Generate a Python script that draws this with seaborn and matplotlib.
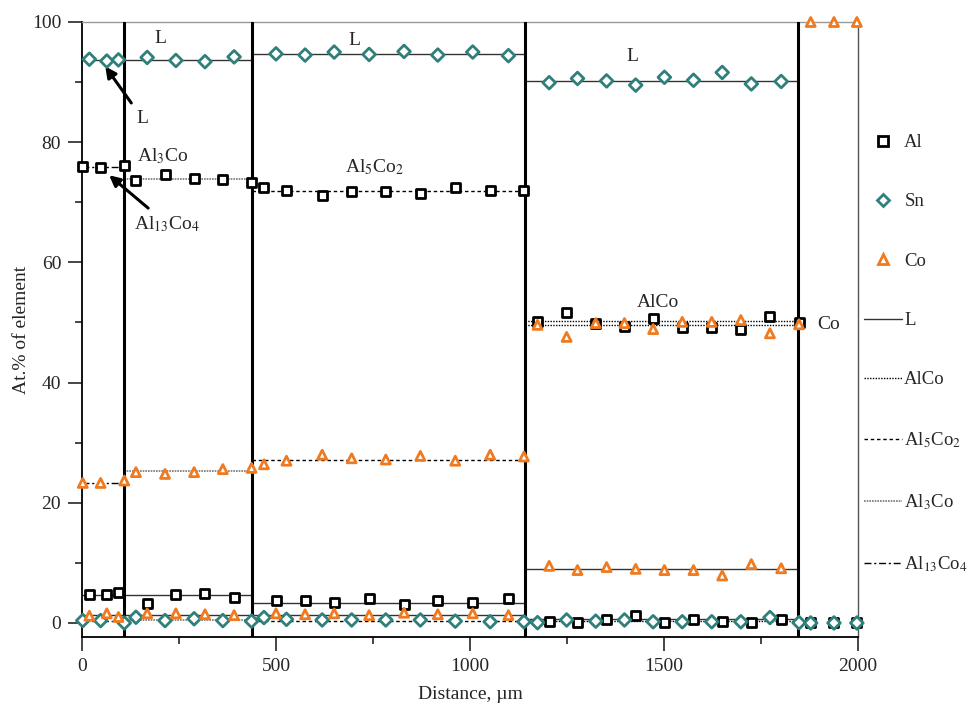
# Concentration profile across the Al-Co / Sn diffusion zone
import numpy as np
import pandas as pd
import matplotlib.pyplot as plt
import seaborn as sns
from matplotlib.lines import Line2D
from matplotlib.ticker import MultipleLocator

# liquid (L) profile points
x_liq = [19, 64, 94, 168, 242, 317, 392, 500, 575, 650, 740, 830, 917, 1007, 1099,
         1204, 1277, 1352, 1427, 1501, 1576, 1650, 1725, 1802]
al_liq = [4.8, 4.8, 5.1, 3.2, 4.7, 4.9, 4.3, 3.7, 3.8, 3.4, 4.0, 3.1, 3.8, 3.4, 4.0,
          0.2, 0.05, 0.5, 1.2, 0.05, 0.5, 0.2, 0.1, 0.5]
sn_liq = [93.8, 93.5, 93.7, 94.1, 93.6, 93.4, 94.2, 94.7, 94.5, 95.0, 94.6, 95.1, 94.5, 95.0, 94.4,
          89.9, 90.6, 90.2, 89.5, 90.8, 90.3, 91.6, 89.7, 90.1]
co_liq = [1.2, 1.6, 1.0, 1.6, 1.6, 1.45, 1.3, 1.6, 1.45, 1.6, 1.3, 1.7, 1.45, 1.6, 1.3,
          9.5, 8.8, 9.3, 9.0, 8.8, 8.8, 7.9, 9.8, 9.1]

# solid phase profile points
x_sol = [2, 48, 109, 139, 214, 289, 363, 437, 469, 527, 619, 695, 783, 872, 962, 1052, 1139,
         1174, 1249, 1324, 1398, 1472, 1547, 1623, 1698, 1773, 1848, 1878, 1938, 1997]
al_sol = [75.9, 75.8, 76.1, 73.7, 74.7, 74.0, 73.8, 73.3, 72.4, 72.0, 71.2, 71.8, 71.8, 71.4,
          72.5, 71.9, 71.9, 50.1, 51.6, 49.9, 49.3, 50.6, 49.1, 49.2, 48.9, 51.0, 50.0, 0, 0, 0]
sn_sol = [0.4, 0.4, 0.0, 0.95, 0.4, 0.7, 0.4, 0.3, 0.9, 0.6, 0.5, 0.5, 0.5, 0.5, 0.3, 0.2, 0.2,
          0.05, 0.5, 0.3, 0.5, 0.2, 0.2, 0.2, 0.2, 0.9, 0.05, 0, 0, 0]
co_sol = [23.3, 23.3, 23.7, 25.1, 24.8, 25.1, 25.6, 25.8, 26.4, 27.0, 28.0, 27.4, 27.2, 27.8,
          27.0, 28.0, 27.7, 49.6, 47.6, 49.9, 49.9, 48.9, 50.1, 50.1, 50.4, 48.2, 49.7,
          100, 100, 100]

# phase boundaries
boundaries = [108, 437, 1142, 1845]

# L composition lines
liq_start = [0, 437, 1142]
liq_end = [437, 1142, 1845]
liq_al = [4.7, 3.4, 0.6]
liq_sn = [93.7, 94.7, 90.2]
liq_co = [1.3, 1.3, 9.0]

# intermetallic composition lines
phases = ['AlCo', 'Al5Co2', 'Al3Co', 'Al13Co4']
phase_labels = ['AlCo', r'Al$_5$Co$_2$', r'Al$_3$Co', r'Al$_{13}$Co$_4$']
phase_start = [1142, 437, 108, 0]
phase_end = [1845, 1142, 437, 108]
phase_al = [50.3, 71.9, 73.9, 75.9]
phase_sn = [0.3, 0.4, 0.5, 0.4]
phase_co = [49.6, 27.2, 25.3, 23.3]

elements = ['Al', 'Sn', 'Co']
palette = {'Al': 'black', 'Sn': '#2F7F7B', 'Co': '#F07A1F'}
markers = {'Al': 's', 'Sn': 'D', 'Co': '^'}
phase_styles = {
    'AlCo': dict(color='black', ls=(0, (1, 1)), lw=1.0),
    'Al5Co2': dict(color='black', ls=(0, (2.5, 2)), lw=1.0),
    'Al3Co': dict(color='#777777', ls=(0, (1, 0.6)), lw=1.2),
    'Al13Co4': dict(color='black', ls=(0, (5, 2, 1.5, 2)), lw=1.0),
}

sns.set_style('ticks')
plt.rcParams['font.family'] = ['Liberation Serif', 'DejaVu Serif']
plt.rcParams['mathtext.fontset'] = 'stix'

rows = []
for el, liq, sol in [('Al', al_liq, al_sol), ('Sn', sn_liq, sn_sol), ('Co', co_liq, co_sol)]:
    rows.append(pd.DataFrame({'x': x_liq, 'y': liq, 'element': el}))
    rows.append(pd.DataFrame({'x': x_sol, 'y': sol, 'element': el}))
pts = pd.concat(rows, ignore_index=True)

fig = plt.figure(figsize=(9.68, 7.05), dpi=100)
ax = fig.add_axes([0.0847, 0.0965, 0.8017, 0.8723])

# L lines
for s, e, a, b, c in zip(liq_start, liq_end, liq_al, liq_sn, liq_co):
    ax.hlines([a, b, c], s, e, color='#333333', lw=1.0, zorder=2)

# phase lines
for ph, s, e, a, b, c in zip(phases, phase_start, phase_end, phase_al, phase_sn, phase_co):
    st = phase_styles[ph]
    ax.hlines([a, b, c], s, e, colors=st['color'], linestyles=[st['ls']], lw=st['lw'], zorder=2)

for b in boundaries:
    ax.axvline(b, color='black', lw=2.2, zorder=3)

sns.scatterplot(data=pts, x='x', y='y', hue='element', style='element',
                hue_order=elements, style_order=elements,
                palette=palette, markers=markers, s=42, linewidth=2.0,
                legend=False, clip_on=False, zorder=5, ax=ax)
pc = ax.collections[-1]
pc.set_edgecolors(pc.get_facecolors())
pc.set_facecolors('white')

ax.set_xlim(0, 2000)
ax.set_ylim(-2.33, 100)
ax.xaxis.set_major_locator(MultipleLocator(500))
ax.xaxis.set_minor_locator(MultipleLocator(250))
ax.yaxis.set_major_locator(MultipleLocator(20))
ax.yaxis.set_minor_locator(MultipleLocator(10))
ax.tick_params(which='major', length=10, width=1.2, labelsize=14, pad=5, direction='out')
ax.tick_params(which='minor', length=5, width=1.2, direction='out')
for side in ['left', 'bottom']:
    ax.spines[side].set_linewidth(1.3)
    ax.spines[side].set_color('black')
ax.spines['top'].set_color('#999999')
ax.spines['top'].set_linewidth(1.0)
ax.spines['right'].set_color('#555555')
ax.spines['right'].set_linewidth(1.0)

ax.set_xlabel('Distance, µm', fontsize=14, labelpad=8)
ax.set_ylabel('At.% of element', fontsize=14, labelpad=1)

# labels in the plot
txt = dict(fontsize=14, ha='center', va='center')
ax.text(201, 97.2, 'L', **txt)
ax.text(703, 97.0, 'L', **txt)
ax.text(1418, 94.2, 'L', **txt)
ax.text(209, 77.6, r'Al$_3$Co', **txt)
ax.text(753, 75.9, r'Al$_5$Co$_2$', **txt)
ax.text(1485, 53.3, 'AlCo', **txt)
ax.text(1923, 49.6, 'Co', **txt)
arrow = dict(arrowstyle='-|>', color='black', lw=2.2, mutation_scale=16, shrinkA=3, shrinkB=0)
ax.annotate('L', xy=(60, 92.6), xytext=(155, 84.0), arrowprops=arrow, **txt)
ax.annotate(r'Al$_{13}$Co$_4$', xy=(70, 74.5), xytext=(219, 66.4), arrowprops=arrow, **txt)

# legend on the right
handles = [Line2D([], [], ls='none', marker=markers[el], markersize=6.5, markeredgewidth=2.0,
                  markeredgecolor=palette[el], markerfacecolor='white') for el in elements]
labels = list(elements)
handles.append(Line2D([], [], color='#333333', lw=1.0))
labels.append('L')
for ph, lab in zip(phases, phase_labels):
    st = phase_styles[ph]
    handles.append(Line2D([], [], color=st['color'], ls=st['ls'], lw=st['lw']))
    labels.append(lab)
fig.legend(handles, labels, loc='upper left', bbox_to_anchor=(864 / 968, 1 - 134 / 705),
           frameon=False, fontsize=13.5, labelspacing=2.25, handlelength=2.0,
           handletextpad=0.15, borderaxespad=0, borderpad=0)

fig.savefig('out.png', dpi=100)
